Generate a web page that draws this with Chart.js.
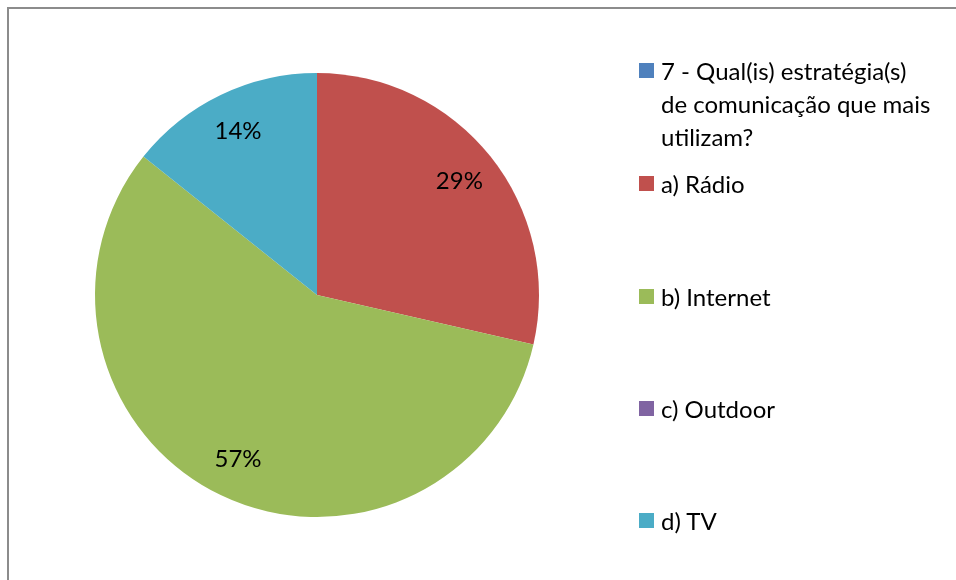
<!DOCTYPE html>
<html>
<head>
<meta charset="utf-8">
<script src="https://cdn.jsdelivr.net/npm/chart.js@4/dist/chart.umd.min.js"></script>
<style>
  html, body { margin: 0; padding: 0; background: #fff; }
  #wrap { position: relative; width: 956px; height: 580px; overflow: hidden; }
  #frame { position: absolute; left: 7px; top: 7px; width: 1000px; height: 1000px;
    border-left: 2px solid #8c8c8c; border-top: 2px solid #8c8c8c; box-sizing: border-box; }
  canvas { position: absolute; left: 0; top: 0; }
  #legend { position: absolute; left: 639px; top: 0; font-family: Lato, 'Open Sans', sans-serif;
    font-size: 24px; color: #000; }
  .item { position: absolute; left: 0; width: 317px; line-height: 33px; white-space: nowrap; }
  .item .box { position: absolute; left: 0; width: 15px; height: 15px; }
  .item .txt { position: absolute; left: 22px; top: 0; }
</style>
</head>
<body>
<div id="wrap">
  <div id="frame"></div>
  <canvas id="pie" width="956" height="580"></canvas>
  <div id="legend"></div>
</div>
<script>
const labels = [
  ['7 - Qual(is) estratégia(s)', 'de comunicação que mais', 'utilizam?'],
  'a) Rádio',
  'b) Internet',
  'c) Outdoor',
  'd) TV',
];
const values = [0, 2, 4, 0, 1];
const colors = ['#4F81BD', '#C0504D', '#9BBB59', '#8064A2', '#4BACC6'];

// legend item marker centres (y) in the page
const legendY = [70, 183, 296, 408, 520];

const legend = document.getElementById('legend');
labels.forEach((l, i) => {
  const item = document.createElement('div');
  item.className = 'item';
  item.style.top = (legendY[i] - 16) + 'px';
  const text = Array.isArray(l) ? l.join('<br>') : l;
  item.innerHTML = `<div class="box" style="top:9px;background:${colors[i]}"></div><div class="txt">${text}</div>`;
  legend.appendChild(item);
});

const pctLabels = {
  id: 'pctLabels',
  afterDatasetsDraw(chart) {
    const ctx = chart.ctx;
    const meta = chart.getDatasetMeta(0);
    const total = values.reduce((a, b) => a + b, 0);
    ctx.save();
    ctx.font = '24px Lato, "Open Sans", sans-serif';
    ctx.fillStyle = '#000';
    ctx.textAlign = 'center';
    ctx.textBaseline = 'middle';
    meta.data.forEach((arc, i) => {
      if (!values[i]) return;
      const p = arc.getProps(['x', 'y', 'startAngle', 'endAngle', 'outerRadius'], true);
      const mid = (p.startAngle + p.endAngle) / 2;
      const r = p.outerRadius * 0.82;
      const txt = Math.round(values[i] / total * 100) + '%';
      ctx.fillText(txt, p.x + Math.cos(mid) * r, p.y + Math.sin(mid) * r);
    });
    ctx.restore();
  },
};

new Chart(document.getElementById('pie'), {
  type: 'pie',
  data: {
    labels,
    datasets: [{ data: values, backgroundColor: colors, borderWidth: 0 }],
  },
  options: {
    responsive: false, animation: false,
    layout: { padding: { left: 95, right: 417, top: 73, bottom: 63 } },
    plugins: { legend: { display: false }, tooltip: { enabled: false } },
  },
  plugins: [pctLabels],
});
</script>
</body>
</html>
